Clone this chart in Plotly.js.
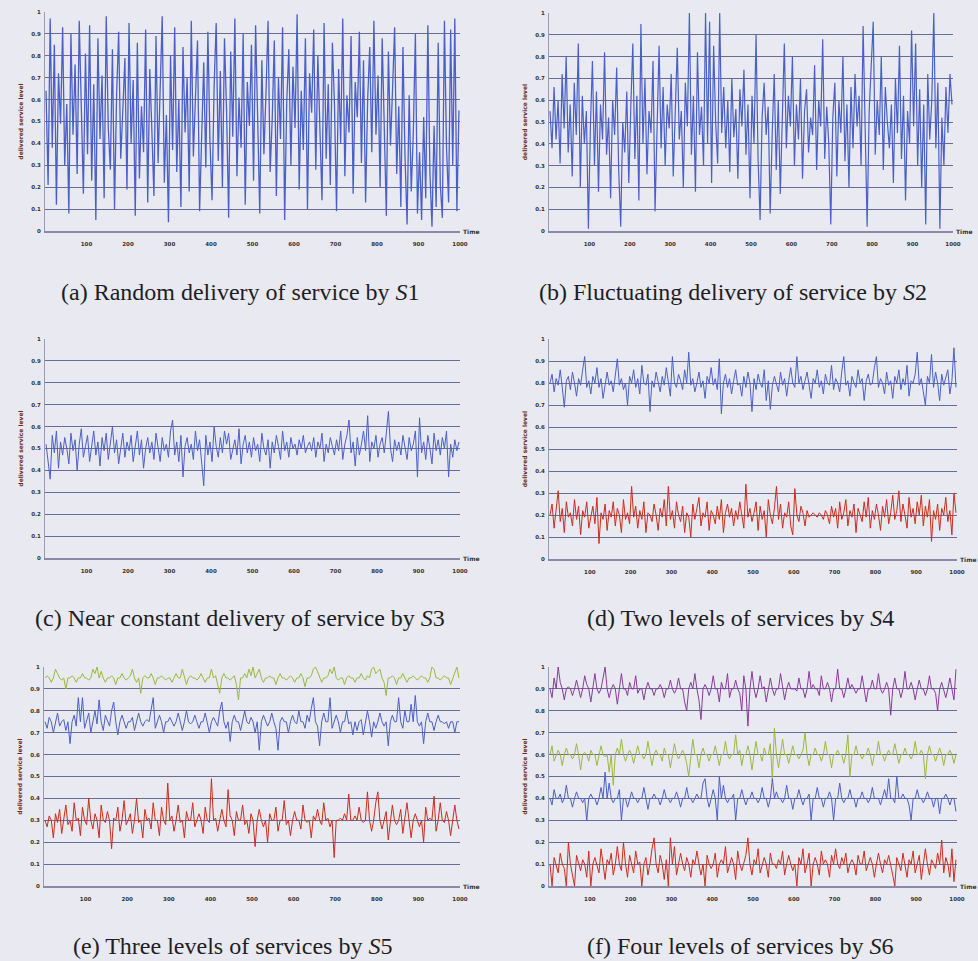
<!DOCTYPE html>
<html>
<head>
<meta charset="utf-8">
<script src="https://cdn.plot.ly/plotly-3.0.1.min.js"></script>
<style>html,body{margin:0;padding:0;background:#e9e9f1;}#chart{width:978px;height:961px;}</style>
</head>
<body>
<div id="chart"></div>
<script>
// Time samples (every 5th step of the 1000-step run)
const time = Array.from({length:200}, (_, i) => i * 5 + 2.5);
const xTicks = [100,200,300,400,500,600,700,800,900,1000];
const yTicks = [0,0.1,0.2,0.3,0.4,0.5,0.6,0.7,0.8,0.9,1];

// (a) S1 random delivery
const s1 = [0.64,0.21,0.97,0.38,0.85,0.12,0.72,0.49,0.93,0.30,
0.58,0.08,0.90,0.44,0.76,0.26,0.96,0.52,0.17,0.81,
0.35,0.94,0.23,0.67,0.05,0.88,0.42,0.71,0.15,0.98,
0.47,0.28,0.83,0.10,0.62,0.91,0.33,0.55,0.79,0.19,
0.95,0.40,0.69,0.07,0.86,0.24,0.57,0.36,0.92,0.13,
0.74,0.46,0.16,0.89,0.31,0.65,0.98,0.22,0.53,0.04,
0.80,0.37,0.93,0.27,0.60,0.11,0.84,0.45,0.70,0.18,
0.96,0.34,0.58,0.87,0.09,0.50,0.77,0.29,0.91,0.41,
0.14,0.66,0.95,0.32,0.73,0.20,0.88,0.55,0.06,0.82,
0.43,0.97,0.25,0.61,0.38,0.90,0.12,0.68,0.48,0.85,
0.23,0.94,0.57,0.08,0.78,0.35,0.63,0.96,0.27,0.51,
0.87,0.16,0.70,0.42,0.93,0.05,0.59,0.83,0.30,0.75,
0.47,0.99,0.19,0.64,0.37,0.88,0.10,0.72,0.54,0.92,
0.28,0.80,0.46,0.14,0.95,0.33,0.67,0.21,0.86,0.58,
0.09,0.74,0.40,0.97,0.25,0.62,0.45,0.89,0.17,0.68,
0.52,0.91,0.31,0.78,0.13,0.60,0.84,0.36,0.96,0.44,
0.71,0.20,0.88,0.53,0.07,0.82,0.39,0.65,0.93,0.26,
0.57,0.11,0.84,0.34,0.03,0.62,0.18,0.45,0.90,0.08,
0.36,0.05,0.52,0.15,0.94,0.27,0.02,0.48,0.11,0.86,
0.21,0.06,0.96,0.38,0.13,0.92,0.30,0.97,0.09,0.55];

// (b) S2 fluctuating delivery
const s2 = [0.55,0.38,0.66,0.42,0.60,0.31,0.72,0.47,0.80,0.36,
0.58,0.25,0.68,0.44,0.86,0.20,0.62,0.40,0.55,0.01,
0.48,0.78,0.30,0.64,0.18,0.58,0.42,0.82,0.35,0.52,
0.15,0.60,0.44,0.75,0.28,0.02,0.50,0.36,0.64,0.22,
0.57,0.86,0.33,0.62,0.14,0.95,0.40,0.70,0.26,0.55,
0.45,0.78,0.09,0.52,0.85,0.38,0.66,0.30,0.58,0.47,
0.72,0.25,0.60,0.84,0.42,0.55,0.20,0.68,0.48,1.00,
0.35,0.62,0.18,0.82,0.44,0.57,0.30,1.00,0.40,0.96,
0.22,0.85,0.50,0.31,1.00,0.45,0.66,0.38,0.60,0.27,
0.70,0.43,0.56,0.24,0.65,0.48,0.74,0.35,0.58,0.15,
0.62,0.40,0.90,0.33,0.05,0.52,0.68,0.44,0.57,0.08,
0.45,0.72,0.28,0.60,0.17,0.55,0.86,0.38,0.62,0.48,
0.80,0.30,0.58,0.42,0.70,0.24,0.55,0.65,0.36,0.52,
0.44,0.76,0.28,0.60,0.48,0.88,0.33,0.57,0.40,0.03,
0.52,0.68,0.25,0.60,0.45,0.80,0.32,0.58,0.20,0.66,
0.38,0.72,0.48,0.62,0.30,0.94,0.42,0.02,0.55,0.75,
0.96,0.35,0.60,0.44,0.80,0.28,0.66,0.50,0.38,0.58,
0.22,0.70,0.45,0.85,0.33,0.62,0.14,0.55,0.40,0.92,
0.48,0.86,0.30,0.65,0.20,0.58,0.03,0.72,0.42,0.60,
1.00,0.38,0.68,0.01,0.52,0.30,0.66,0.45,0.72,0.58];

// (c) S3 near constant
const s3 = [0.52,0.44,0.36,0.56,0.48,0.58,0.41,0.53,0.47,0.55,
0.50,0.43,0.57,0.49,0.54,0.40,0.52,0.59,0.46,0.51,
0.56,0.44,0.50,0.58,0.47,0.53,0.42,0.55,0.49,0.57,
0.45,0.52,0.60,0.48,0.54,0.43,0.51,0.57,0.46,0.53,
0.49,0.56,0.44,0.52,0.58,0.47,0.54,0.41,0.50,0.55,
0.48,0.53,0.45,0.57,0.50,0.44,0.55,0.49,0.52,0.46,
0.58,0.63,0.47,0.53,0.44,0.56,0.37,0.51,0.55,0.48,
0.52,0.45,0.58,0.49,0.54,0.42,0.33,0.56,0.47,0.53,
0.44,0.60,0.51,0.46,0.55,0.48,0.58,0.52,0.57,0.45,
0.50,0.54,0.47,0.59,0.43,0.52,0.56,0.48,0.53,0.46,
0.55,0.49,0.52,0.44,0.57,0.50,0.47,0.54,0.41,0.53,
0.48,0.56,0.51,0.45,0.58,0.49,0.53,0.46,0.55,0.50,
0.52,0.47,0.54,0.50,0.56,0.48,0.51,0.53,0.49,0.55,
0.46,0.53,0.50,0.57,0.44,0.52,0.48,0.55,0.51,0.47,
0.54,0.49,0.58,0.45,0.52,0.56,0.63,0.48,0.53,0.42,
0.55,0.47,0.52,0.58,0.49,0.65,0.44,0.53,0.50,0.56,
0.46,0.52,0.55,0.48,0.57,0.67,0.50,0.44,0.54,0.49,
0.53,0.47,0.56,0.50,0.45,0.55,0.49,0.52,0.58,0.37,
0.64,0.48,0.53,0.45,0.56,0.50,0.43,0.57,0.49,0.54,
0.47,0.55,0.50,0.58,0.37,0.52,0.46,0.54,0.49,0.53];

// (d) S4 two levels
const s4High = [0.80,0.84,0.76,0.82,0.79,0.86,0.78,0.69,0.81,0.83,
0.77,0.85,0.80,0.74,0.82,0.79,0.86,0.92,0.78,0.81,
0.75,0.83,0.80,0.87,0.78,0.82,0.73,0.80,0.85,0.79,
0.81,0.76,0.84,0.91,0.79,0.82,0.77,0.80,0.70,0.83,
0.80,0.86,0.78,0.82,0.75,0.88,0.80,0.79,0.84,0.67,
0.81,0.78,0.85,0.80,0.76,0.83,0.79,0.87,0.80,0.74,
0.92,0.80,0.78,0.84,0.81,0.77,0.86,0.80,0.94,0.79,
0.82,0.76,0.80,0.85,0.78,0.81,0.73,0.83,0.80,0.87,
0.79,0.82,0.77,0.91,0.66,0.80,0.84,0.78,0.82,0.75,
0.81,0.86,0.79,0.80,0.74,0.83,0.78,0.85,0.80,0.67,
0.82,0.77,0.84,0.80,0.78,0.86,0.72,0.81,0.68,0.79,
0.83,0.80,0.76,0.85,0.79,0.82,0.74,0.81,0.87,0.80,
0.78,0.92,0.80,0.83,0.77,0.81,0.85,0.79,0.73,0.82,
0.80,0.86,0.78,0.81,0.75,0.84,0.80,0.79,0.88,0.77,
0.82,0.80,0.76,0.85,0.92,0.79,0.81,0.74,0.83,0.80,
0.78,0.86,0.80,0.82,0.72,0.81,0.84,0.79,0.80,0.87,
0.92,0.78,0.82,0.80,0.75,0.85,0.79,0.81,0.73,0.83,
0.80,0.86,0.77,0.82,0.79,0.88,0.74,0.81,0.80,0.84,
0.94,0.79,0.82,0.76,0.70,0.83,0.80,0.93,0.78,0.85,
0.80,0.72,0.84,0.79,0.82,0.86,0.75,0.81,0.96,0.78];
const s4Low = [0.20,0.25,0.14,0.22,0.31,0.17,0.23,0.12,0.26,0.19,
0.21,0.15,0.27,0.18,0.24,0.11,0.22,0.19,0.26,0.14,
0.20,0.24,0.16,0.28,0.07,0.21,0.18,0.25,0.13,0.22,
0.19,0.26,0.15,0.23,0.20,0.12,0.27,0.18,0.21,0.16,
0.33,0.19,0.24,0.14,0.22,0.18,0.26,0.12,0.21,0.20,
0.17,0.25,0.20,0.13,0.23,0.19,0.27,0.15,0.33,0.18,
0.22,0.14,0.26,0.20,0.17,0.24,0.12,0.21,0.19,0.10,
0.25,0.18,0.23,0.28,0.15,0.21,0.19,0.26,0.13,0.22,
0.20,0.16,0.24,0.18,0.27,0.12,0.21,0.25,0.19,0.23,
0.15,0.22,0.18,0.26,0.20,0.14,0.34,0.19,0.23,0.17,
0.21,0.26,0.13,0.24,0.18,0.22,0.10,0.27,0.20,0.16,
0.23,0.33,0.18,0.25,0.14,0.21,0.19,0.26,0.15,0.11,
0.32,0.20,0.17,0.24,0.21,0.15,0.22,0.19,0.20,0.21,
0.20,0.19,0.21,0.20,0.18,0.22,0.20,0.16,0.24,0.19,
0.23,0.14,0.26,0.18,0.21,0.27,0.15,0.22,0.19,0.25,
0.12,0.23,0.20,0.17,0.26,0.19,0.28,0.14,0.22,0.18,
0.25,0.20,0.13,0.24,0.19,0.27,0.16,0.21,0.29,0.18,
0.22,0.31,0.17,0.25,0.20,0.14,0.28,0.19,0.23,0.16,
0.26,0.20,0.29,0.15,0.24,0.19,0.27,0.08,0.22,0.18,
0.25,0.13,0.23,0.20,0.28,0.17,0.22,0.11,0.30,0.21];

// (e) S5 three levels
const s5High = [0.95,0.96,0.95,0.93,0.95,0.99,0.97,0.95,0.94,0.95,
0.90,0.95,0.95,0.96,0.95,0.93,0.95,0.95,0.97,0.95,
0.95,0.94,0.95,0.99,0.97,1.00,0.95,0.98,0.95,0.93,
0.95,0.95,0.96,0.95,0.92,0.95,0.95,0.97,0.95,0.94,
0.95,0.96,0.99,0.95,0.93,0.95,0.88,0.95,0.96,0.95,
0.95,0.97,0.95,0.92,0.95,0.95,0.96,0.95,0.94,0.95,
0.95,0.93,0.95,0.97,0.95,0.95,0.99,0.95,0.92,0.95,
0.96,0.95,0.95,0.94,0.95,0.97,0.95,0.93,0.95,0.95,
0.99,0.95,0.96,0.92,0.88,0.95,0.97,0.95,0.95,0.94,
0.95,0.96,0.92,0.85,0.95,0.95,0.97,0.95,0.99,0.96,
1.00,0.95,0.97,0.99,0.95,0.93,0.95,0.95,0.96,0.95,
0.95,0.92,0.95,0.97,0.95,0.95,0.94,0.95,0.96,0.95,
0.93,0.95,0.95,0.97,0.95,0.91,0.95,0.95,0.96,0.99,
1.00,0.98,0.95,0.93,0.95,0.95,0.96,0.99,0.97,1.00,
0.95,0.94,0.95,0.95,0.92,0.95,0.96,0.95,0.95,0.93,
0.95,0.95,0.97,0.95,0.94,0.96,0.95,0.99,1.00,0.97,
0.98,0.99,0.95,0.93,0.87,0.95,0.95,0.96,0.95,0.92,
0.95,0.95,0.97,0.95,0.93,0.95,0.95,0.96,0.95,0.94,
0.95,0.96,0.95,0.95,0.93,0.95,1.00,0.99,0.95,0.95,
0.94,0.95,0.96,0.95,0.95,0.92,0.95,0.97,1.00,0.95];
const s5Mid = [0.75,0.72,0.77,0.75,0.70,0.75,0.79,0.73,0.75,0.76,
0.71,0.75,0.65,0.75,0.78,0.73,0.86,0.75,0.86,0.72,
0.75,0.79,0.70,0.75,0.80,0.74,0.85,0.75,0.71,0.78,
0.75,0.73,0.80,0.84,0.75,0.69,0.75,0.78,0.75,0.72,
0.75,0.75,0.77,0.71,0.75,0.79,0.75,0.73,0.75,0.76,
0.75,0.80,0.86,0.72,0.75,0.78,0.75,0.70,0.75,0.75,
0.77,0.75,0.73,0.75,0.79,0.75,0.71,0.75,0.80,0.75,
0.74,0.75,0.78,0.75,0.72,0.75,0.75,0.79,0.75,0.70,
0.75,0.77,0.75,0.73,0.80,0.84,0.75,0.72,0.75,0.66,
0.75,0.78,0.75,0.75,0.71,0.75,0.80,0.75,0.74,0.77,
0.75,0.70,0.75,0.62,0.75,0.78,0.75,0.73,0.75,0.79,
0.75,0.72,0.62,0.75,0.77,0.75,0.75,0.70,0.75,0.78,
0.75,0.74,0.80,0.75,0.75,0.72,0.78,0.75,0.81,0.86,
0.75,0.73,0.64,0.75,0.79,0.75,0.75,0.86,0.72,0.75,
0.78,0.75,0.70,0.75,0.75,0.80,0.74,0.75,0.69,0.75,
0.71,0.75,0.76,0.69,0.75,0.80,0.75,0.68,0.75,0.72,
0.75,0.79,0.75,0.73,0.75,0.64,0.75,0.78,0.75,0.75,
0.86,0.75,0.72,0.80,0.75,0.75,0.83,0.75,0.87,0.75,
0.73,0.75,0.65,0.75,0.79,0.75,0.75,0.71,0.75,0.78,
0.75,0.75,0.74,0.75,0.72,0.75,0.75,0.70,0.75,0.75];
const s5Low = [0.30,0.27,0.32,0.30,0.22,0.33,0.29,0.35,0.24,0.30,
0.37,0.28,0.30,0.25,0.38,0.30,0.31,0.23,0.36,0.30,
0.28,0.40,0.30,0.26,0.33,0.30,0.22,0.37,0.30,0.29,
0.34,0.30,0.17,0.31,0.30,0.36,0.25,0.30,0.39,0.28,
0.30,0.33,0.24,0.30,0.40,0.29,0.30,0.22,0.35,0.30,
0.31,0.26,0.38,0.30,0.30,0.23,0.36,0.30,0.28,0.47,
0.30,0.32,0.25,0.30,0.37,0.29,0.30,0.22,0.34,0.30,
0.30,0.38,0.27,0.30,0.33,0.30,0.24,0.36,0.30,0.29,
0.49,0.30,0.31,0.25,0.30,0.35,0.30,0.27,0.44,0.32,
0.30,0.23,0.34,0.30,0.30,0.37,0.28,0.30,0.24,0.33,
0.30,0.18,0.30,0.35,0.30,0.27,0.30,0.20,0.33,0.30,
0.30,0.36,0.25,0.30,0.30,0.39,0.28,0.30,0.23,0.30,
0.34,0.30,0.30,0.26,0.37,0.30,0.29,0.30,0.22,0.32,
0.30,0.35,0.30,0.28,0.38,0.30,0.31,0.27,0.30,0.13,
0.30,0.30,0.31,0.30,0.33,0.30,0.42,0.30,0.30,0.32,
0.30,0.36,0.30,0.29,0.30,0.43,0.30,0.25,0.30,0.38,
0.43,0.30,0.26,0.30,0.34,0.21,0.30,0.37,0.30,0.28,
0.30,0.35,0.24,0.30,0.38,0.30,0.22,0.30,0.33,0.30,
0.27,0.30,0.20,0.36,0.30,0.31,0.30,0.41,0.25,0.30,
0.38,0.30,0.29,0.34,0.30,0.23,0.30,0.37,0.30,0.26];

// (f) S6 four levels
const s6L1 = [0.90,0.86,0.95,0.90,1.00,0.93,0.90,0.85,0.90,0.91,
0.90,0.87,0.90,0.94,0.90,0.86,0.90,0.96,0.92,0.90,
0.84,0.90,0.97,0.90,0.88,0.90,0.95,1.00,0.90,0.86,
0.90,0.92,0.90,0.83,0.90,0.97,0.90,0.90,0.87,0.93,
0.90,0.90,0.96,0.88,0.90,0.90,0.85,0.90,0.93,0.90,
0.90,0.87,0.90,0.90,0.92,0.90,0.86,0.90,0.90,0.94,
0.90,0.88,0.90,0.95,0.90,0.90,0.84,0.80,0.90,0.93,
0.90,0.97,0.90,0.85,0.76,0.90,0.92,0.90,0.87,0.90,
0.96,0.90,0.90,0.84,0.93,0.90,0.90,0.97,0.86,0.90,
0.90,0.94,0.90,0.88,0.80,0.96,0.90,0.73,0.90,0.98,
0.90,0.86,0.90,0.96,0.90,0.91,0.84,0.90,0.95,0.90,
0.87,0.90,0.90,0.97,0.90,0.85,0.90,0.93,0.90,0.90,
0.90,0.89,0.95,0.90,0.90,0.86,0.90,0.98,0.90,0.92,
0.90,0.90,0.87,0.96,0.90,0.90,0.93,0.90,0.84,0.90,
0.90,0.99,0.90,0.90,0.86,0.90,0.95,0.90,0.92,0.90,
0.88,0.90,0.90,0.96,0.90,0.84,0.90,0.90,0.94,0.90,
0.90,0.97,0.90,0.88,0.90,0.93,0.90,0.78,0.90,0.95,
0.90,0.90,0.86,0.90,0.98,0.90,0.90,0.93,0.90,0.85,
0.90,0.94,0.90,0.90,0.87,0.90,0.96,0.90,0.90,0.88,
0.80,0.90,0.93,0.90,0.86,0.90,0.95,0.90,0.85,0.99];
const s6L2 = [0.60,0.64,0.57,0.60,0.62,0.60,0.55,0.60,0.63,0.60,
0.60,0.58,0.60,0.65,0.60,0.53,0.60,0.61,0.60,0.57,
0.62,0.60,0.60,0.55,0.60,0.64,0.60,0.59,0.60,0.52,
0.60,0.46,0.60,0.63,0.60,0.67,0.60,0.57,0.60,0.62,
0.60,0.56,0.60,0.64,0.60,0.60,0.58,0.60,0.66,0.60,
0.55,0.60,0.62,0.60,0.60,0.57,0.63,0.60,0.60,0.54,
0.60,0.65,0.60,0.58,0.60,0.62,0.60,0.56,0.50,0.60,
0.67,0.60,0.60,0.54,0.60,0.63,0.60,0.60,0.57,0.60,
0.60,0.64,0.60,0.55,0.60,0.60,0.66,0.60,0.58,0.60,
0.60,0.69,0.60,0.62,0.55,0.60,0.60,0.64,0.60,0.53,
0.60,0.66,0.60,0.60,0.57,0.63,0.60,0.60,0.65,0.48,
0.72,0.60,0.54,0.60,0.67,0.60,0.60,0.56,0.60,0.64,
0.60,0.60,0.58,0.60,0.62,0.70,0.60,0.55,0.60,0.60,
0.63,0.60,0.60,0.57,0.60,0.66,0.60,0.60,0.54,0.60,
0.60,0.62,0.60,0.60,0.56,0.60,0.69,0.50,0.60,0.60,
0.64,0.60,0.60,0.58,0.60,0.60,0.63,0.60,0.55,0.60,
0.60,0.66,0.60,0.60,0.57,0.60,0.62,0.60,0.60,0.65,
0.60,0.56,0.60,0.60,0.63,0.60,0.60,0.58,0.60,0.66,
0.60,0.60,0.62,0.60,0.49,0.60,0.64,0.60,0.60,0.57,
0.60,0.63,0.60,0.55,0.60,0.60,0.62,0.60,0.56,0.60];
const s6L3 = [0.40,0.37,0.44,0.40,0.40,0.42,0.38,0.40,0.46,0.40,
0.40,0.36,0.40,0.43,0.40,0.40,0.38,0.40,0.30,0.40,
0.42,0.40,0.40,0.37,0.40,0.45,0.40,0.52,0.40,0.47,
0.40,0.38,0.40,0.40,0.44,0.30,0.40,0.40,0.36,0.40,
0.43,0.40,0.40,0.38,0.40,0.40,0.45,0.40,0.35,0.40,
0.40,0.42,0.40,0.40,0.37,0.40,0.44,0.40,0.40,0.38,
0.40,0.40,0.43,0.40,0.36,0.40,0.40,0.45,0.40,0.40,
0.38,0.40,0.42,0.40,0.40,0.47,0.49,0.40,0.36,0.40,
0.44,0.40,0.30,0.50,0.40,0.46,0.40,0.38,0.40,0.40,
0.42,0.30,0.40,0.40,0.44,0.40,0.37,0.40,0.40,0.43,
0.40,0.40,0.38,0.40,0.45,0.40,0.40,0.36,0.40,0.49,
0.40,0.43,0.40,0.40,0.38,0.40,0.46,0.40,0.40,0.35,
0.40,0.40,0.44,0.40,0.37,0.40,0.40,0.42,0.30,0.40,
0.40,0.45,0.40,0.40,0.36,0.40,0.40,0.43,0.40,0.30,
0.40,0.40,0.47,0.40,0.38,0.40,0.40,0.44,0.40,0.40,
0.36,0.40,0.40,0.43,0.40,0.40,0.38,0.40,0.45,0.40,
0.40,0.40,0.37,0.40,0.44,0.40,0.49,0.40,0.40,0.38,
0.50,0.40,0.40,0.42,0.40,0.40,0.37,0.30,0.40,0.40,
0.44,0.40,0.40,0.38,0.40,0.43,0.40,0.40,0.36,0.40,
0.40,0.33,0.40,0.40,0.42,0.40,0.37,0.40,0.40,0.34];
const s6L4 = [0.10,0.00,0.13,0.10,0.06,0.15,0.10,0.08,0.00,0.20,
0.10,0.05,0.00,0.14,0.10,0.07,0.12,0.10,0.04,0.16,
0.00,0.10,0.13,0.10,0.06,0.17,0.10,0.03,0.12,0.10,
0.15,0.05,0.10,0.18,0.10,0.07,0.20,0.10,0.04,0.14,
0.10,0.06,0.16,0.10,0.11,0.00,0.10,0.13,0.05,0.10,
0.17,0.22,0.10,0.06,0.14,0.10,0.03,0.12,0.00,0.22,
0.10,0.18,0.05,0.10,0.15,0.10,0.07,0.13,0.10,0.04,
0.12,0.10,0.16,0.10,0.05,0.10,0.00,0.14,0.10,0.08,
0.10,0.15,0.04,0.10,0.12,0.10,0.18,0.06,0.10,0.13,
0.10,0.03,0.16,0.10,0.07,0.10,0.14,0.22,0.10,0.05,
0.12,0.10,0.17,0.06,0.10,0.13,0.10,0.04,0.15,0.10,
0.10,0.08,0.12,0.10,0.16,0.05,0.10,0.14,0.10,0.07,
0.10,0.00,0.13,0.10,0.17,0.06,0.10,0.15,0.00,0.10,
0.13,0.10,0.05,0.16,0.10,0.12,0.10,0.04,0.14,0.10,
0.17,0.10,0.08,0.13,0.10,0.15,0.06,0.10,0.12,0.10,
0.05,0.14,0.10,0.10,0.16,0.07,0.10,0.13,0.10,0.04,
0.10,0.15,0.10,0.06,0.12,0.10,0.14,0.10,0.05,0.00,
0.13,0.10,0.07,0.15,0.10,0.04,0.12,0.10,0.16,0.06,
0.10,0.14,0.03,0.10,0.17,0.10,0.05,0.12,0.10,0.08,
0.15,0.10,0.21,0.06,0.13,0.10,0.04,0.17,0.02,0.12];

const captions = [
  '(a) Random delivery of service by <i>S</i>1',
  '(b) Fluctuating delivery of service by <i>S</i>2',
  '(c) Near constant delivery of service by <i>S</i>3',
  '(d) Two levels of services by <i>S</i>4',
  '(e) Three levels of services by <i>S</i>5',
  '(f) Four levels of services by <i>S</i>6'
];

const BLUE = '#4a60c8', RED = '#cc2c1c', GREEN = '#9cb83c', PURPLE = '#8a3a9c';

const W = 978, H = 961;
// panel pixel boxes [left, right, top, bottom]
const boxes = [
  [45, 460, 12, 231],
  [549, 953, 13, 231],
  [45, 460, 339, 558],
  [549, 957, 339, 559],
  [44, 460, 667, 886],
  [549, 957, 667, 886]
];
const captionPos = [[240, 292], [733, 292], [240, 618], [740, 618], [232, 946], [740, 946]];
const denseWidth = [1.3, 1.2, 1, 1, 1, 1];

const panelSeries = [
  [[s1, BLUE]],
  [[s2, BLUE]],
  [[s3, BLUE]],
  [[s4High, BLUE], [s4Low, RED]],
  [[s5High, GREEN], [s5Mid, BLUE], [s5Low, RED]],
  [[s6L1, PURPLE], [s6L2, GREEN], [s6L3, BLUE], [s6L4, RED]]
];

const traces = [];
const layout = {
  width: W, height: H,
  margin: {l: 0, r: 0, t: 0, b: 0},
  paper_bgcolor: '#e9e9f1',
  plot_bgcolor: 'rgba(0,0,0,0)',
  showlegend: false,
  annotations: []
};

boxes.forEach((b, k) => {
  const n = k === 0 ? '' : String(k + 1);
  panelSeries[k].forEach(([ys, col]) => {
    traces.push({
      x: time, y: ys, type: 'scatter', mode: 'lines',
      line: {color: col, width: denseWidth[k]},
      xaxis: 'x' + n, yaxis: 'y' + n, hoverinfo: 'skip'
    });
  });
  layout['xaxis' + n] = {
    domain: [b[0] / W, b[1] / W],
    anchor: 'y' + n,
    range: [0, 1000],
    tickmode: 'array', tickvals: xTicks,
    ticks: '', showgrid: false, zeroline: false,
    showline: true, linecolor: '#8a8aa6', linewidth: 2,
    tickfont: {family: 'DejaVu Sans', size: 5.5, color: '#333', weight: 'bold'},
    ticklabelstandoff: 6
  };
  layout['yaxis' + n] = {
    domain: [1 - b[3] / H, 1 - b[2] / H],
    anchor: 'x' + n,
    range: [0, 1],
    tickmode: 'array', tickvals: yTicks,
    ticks: '', zeroline: false,
    showgrid: true, gridcolor: '#6a6a96', gridwidth: 1,
    showline: true, linecolor: '#9a9ab4', linewidth: 1,
    tickfont: {family: 'DejaVu Sans', size: 5.5, color: '#333', weight: 'bold'},
    ticklabelstandoff: 2,
    title: {text: 'delivered service level', standoff: 7,
            font: {family: 'DejaVu Sans', size: 6, color: '#6a2a20', weight: 'bold'}}
  };
  layout.annotations.push({
    xref: 'paper', yref: 'paper', x: (b[1] + 1) / W, y: 1 - b[3] / H,
    xanchor: 'left', yanchor: 'middle', showarrow: false,
    text: 'Time', font: {family: 'DejaVu Sans', size: 6, color: '#333', weight: 'bold'}
  });
  layout.annotations.push({
    xref: 'paper', yref: 'paper', x: captionPos[k][0] / W, y: 1 - captionPos[k][1] / H,
    xanchor: 'center', yanchor: 'middle', showarrow: false,
    text: captions[k], font: {family: 'Liberation Serif', size: 24, color: '#1e1e24'}
  });
});

Plotly.newPlot('chart', traces, layout, {staticPlot: true, displayModeBar: false});
</script>
</body>
</html>
